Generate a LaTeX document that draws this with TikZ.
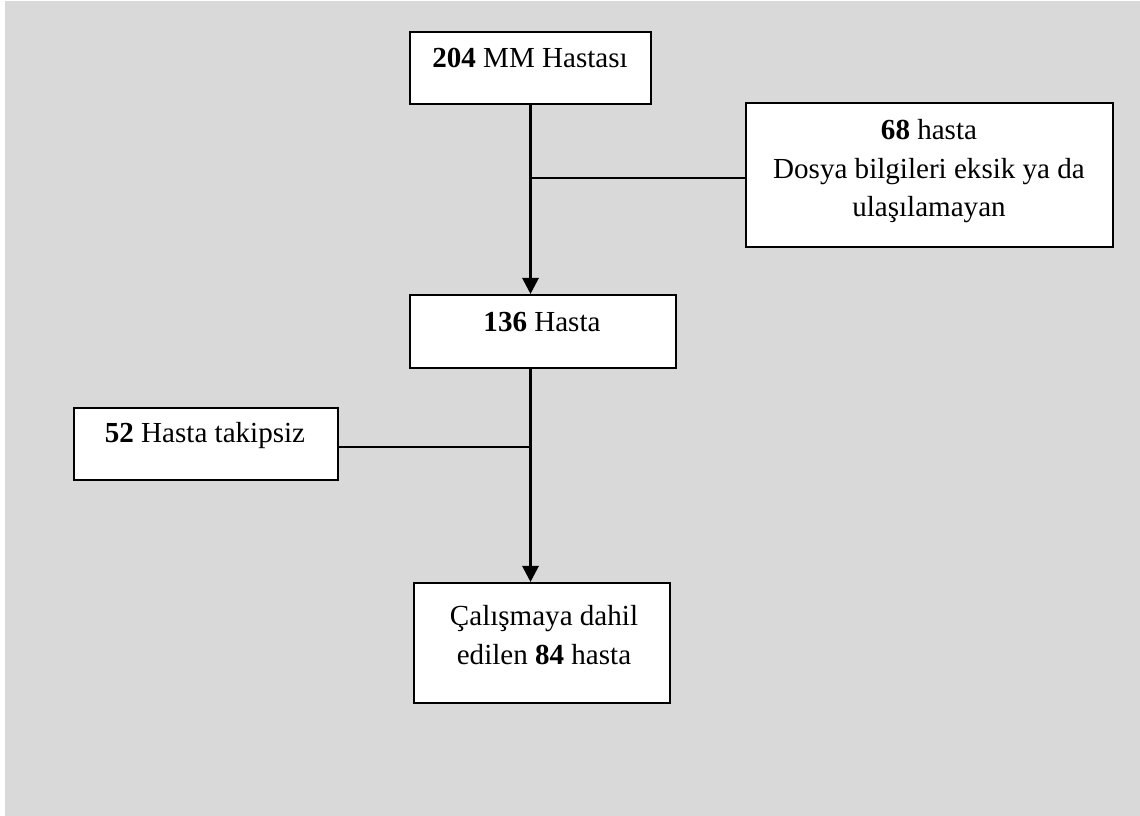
\documentclass[tikz,border=0pt]{standalone}
\usepackage{fontspec}
\setmainfont{Liberation Serif}
\usetikzlibrary{arrows.meta}
\definecolor{bgray}{HTML}{D9D9D9}
\tikzset{
  box/.style={draw=black, line width=1.5pt, fill=white, rectangle, inner sep=0pt, anchor=north west},
  txt/.style={anchor=base, align=center, inner sep=0pt, font=\fontsize{21.8}{28.9}\selectfont},
  conn/.style={line width=1.8pt, draw=black},
  arr/.style={conn, line width=2.1pt, -{Triangle[length=12pt,width=12pt]}}
}
\begin{document}
\begin{tikzpicture}[x=0.75pt,y=-0.75pt]
\useasboundingbox (0,0) rectangle (1140,816);
\fill[bgray] (5,1) rectangle (1140,816);
% boxes
\node[box, minimum width=241*0.75pt, minimum height=72*0.75pt] (b1) at (409,31) {};
\node[box, minimum width=367*0.75pt, minimum height=144*0.75pt] (b2) at (745,102) {};
\node[box, minimum width=266*0.75pt, minimum height=73*0.75pt] (b3) at (409,294) {};
\node[box, minimum width=264*0.75pt, minimum height=72*0.75pt] (b4) at (73,407) {};
\node[box, minimum width=256*0.75pt, minimum height=120*0.75pt] (b5) at (413,582) {};
% texts (base anchor = baseline of last line)
\node[txt] (t1) at (530,68) {\textbf{204} MM Hastası};
\node[txt] (t2) at (929,217) {\textbf{68} hasta\\Dosya bilgileri eksik ya da\\ulaşılamayan};
\node[txt] (t3) at (542,332) {\textbf{136} Hasta};
\node[txt] (t4) at (205,443) {\textbf{52} Hasta takipsiz};
\node[txt] (t5) at (544,664) {Çalışmaya dahil\\edilen \textbf{84} hasta};
% connectors
\coordinate (j1) at (530,178);
\coordinate (j2) at (530,447);
\draw[arr] (b1.south) -- (b1.south |- b3.north);
\draw[conn] (j1) -- (j1 -| b2.west);
\draw[arr] (b3.south -| b1.south) -- (b1.south |- b5.north);
\draw[conn] (b4.east |- j2) -- (j2);
\end{tikzpicture}
\end{document}
